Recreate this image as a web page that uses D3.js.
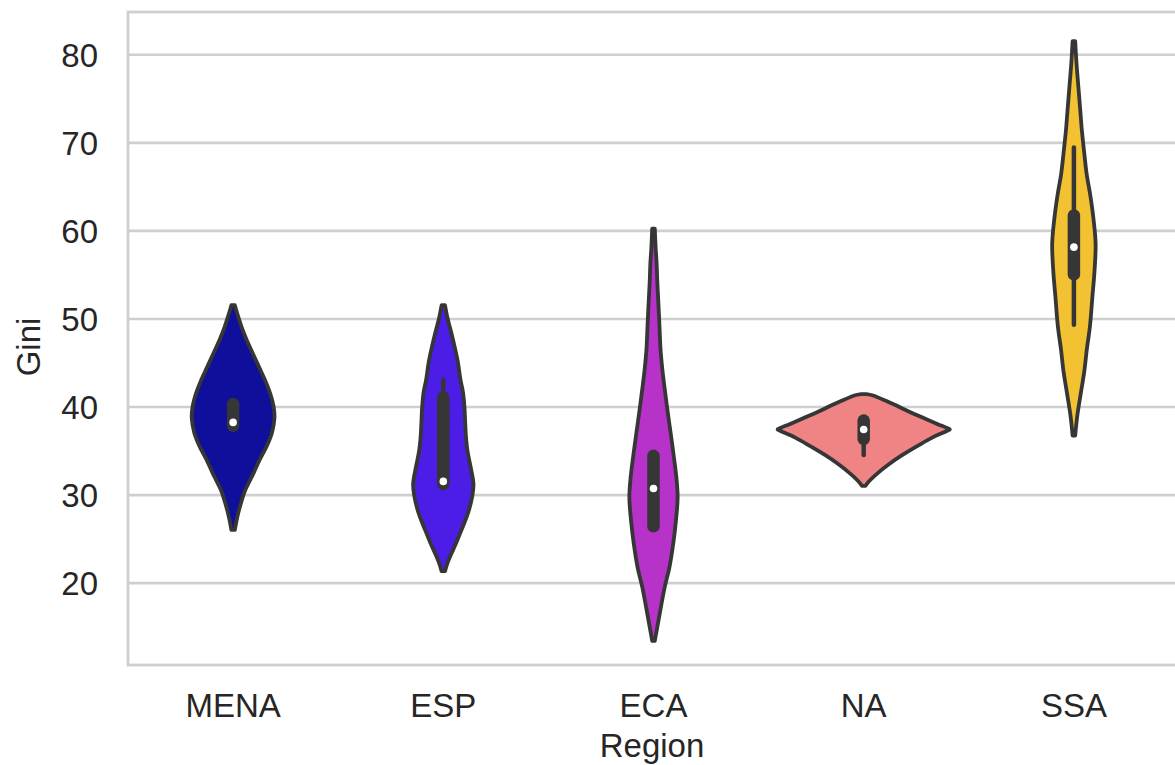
<!DOCTYPE html>
<html>
<head>
<meta charset="utf-8">
<script src="https://cdn.jsdelivr.net/npm/d3@7"></script>
<style>
  html, body { margin: 0; padding: 0; background: #ffffff; }
  svg { display: block; }
  text { font-family: "Liberation Sans", Arial, sans-serif; fill: #262626; }
</style>
</head>
<body>
<svg id="chart" width="1175" height="765"></svg>
<script>
// Regions along the x axis
const regions = ["MENA", "ESP", "ECA", "NA", "SSA"];
const regionColors = ["#0f0f9b", "#4b1de6", "#b632c9", "#f08383", "#f2c232"];
const yTicks = [20, 30, 40, 50, 60, 70, 80];

// Kernel density profiles: [Gini value, relative density]
const densityMENA = [[26.0,0.02],[27.5,0.05],[29,0.09],[30.5,0.14],[31.7,0.20],[32.5,0.24],[34,0.31],[35.5,0.39],[37,0.45],[38.7,0.48],[40,0.47],[41.5,0.43],[43,0.37],[44.5,0.30],[46,0.23],[47.5,0.16],[49,0.10],[50.5,0.05],[51.5,0.02]];
const densityESP = [[21.3,0.02],[22,0.04],[23,0.08],[24.3,0.14],[25.5,0.19],[26.8,0.245],[28,0.29],[29.5,0.33],[31.2,0.35],[33,0.32],[35,0.28],[36.7,0.262],[38,0.255],[40,0.245],[41.7,0.227],[43,0.20],[45,0.17],[46.6,0.136],[48.5,0.09],[50,0.05],[51.5,0.02]];
const densityECA = [[13.4,0.015],[15,0.045],[16.9,0.08],[19.5,0.13],[21.8,0.186],[24.5,0.23],[27,0.26],[29.7,0.28],[32,0.265],[34,0.24],[36.7,0.203],[39,0.17],[41.7,0.134],[44,0.105],[46.6,0.081],[49,0.07],[51.5,0.058],[54,0.045],[56.5,0.035],[58,0.025],[60.2,0.015]];
const densityNA = [[31.0,0.02],[31.6,0.07],[32.5,0.17],[33.5,0.30],[34.5,0.45],[35.5,0.62],[36.5,0.80],[37.2,0.96],[37.4,1.0],[37.6,0.96],[38.0,0.86],[38.8,0.67],[39.5,0.51],[40.2,0.36],[40.8,0.22],[41.25,0.11],[41.4,0.03]];
const densitySSA = [[36.7,0.015],[39,0.04],[41.5,0.08],[44.1,0.122],[46.5,0.15],[49.1,0.186],[52.5,0.215],[55.5,0.24],[58.5,0.252],[61.5,0.225],[64,0.19],[66.4,0.148],[68.8,0.12],[71.3,0.093],[73.5,0.075],[76.3,0.052],[79,0.03],[81.5,0.015]];

// Box summaries: [lower whisker, Q1, median, Q3, upper whisker]
const boxMENA = [37.8, 37.8, 38.2, 40.3, 40.3];
const boxESP = [31.2, 31.2, 31.5, 41.0, 43.0];
const boxECA = [26.4, 26.4, 30.7, 34.4, 34.4];
const boxNA = [34.5, 36.3, 37.4, 38.4, 38.4];
const boxSSA = [49.3, 55.0, 58.1, 61.7, 69.4];

const densities = [densityMENA, densityESP, densityECA, densityNA, densitySSA];
const boxes = [boxMENA, boxESP, boxECA, boxNA, boxSSA];

const svg = d3.select("#chart");
const plot = { left: 128, right: 1179, top: 12, bottom: 665 };

const x = d3.scaleBand().domain(regions).range([plot.left, plot.right]).padding(0);
const y = d3.scaleLinear().domain([10.65, 84.8]).range([plot.bottom, plot.top]);
const w = d3.scaleLinear().domain([0, 1]).range([0, x.bandwidth() * 0.41]);

const gridColor = "#cfcfcf";
const lineColor = "#363636";

// Horizontal grid
const yAxis = d3.axisLeft(y).tickValues(yTicks).tickSize(-(plot.right - plot.left)).tickPadding(30).tickFormat(d3.format("d"));
const gy = svg.append("g").attr("transform", `translate(${plot.left},0)`).call(yAxis);
gy.select(".domain").remove();
gy.selectAll(".tick line").attr("stroke", gridColor).attr("stroke-width", 2.6);
gy.selectAll(".tick text").attr("font-size", 33).attr("fill", "#262626").attr("dy", "0.36em");

// Frame of the axes
svg.append("rect")
  .attr("x", plot.left).attr("y", plot.top)
  .attr("width", plot.right - plot.left).attr("height", plot.bottom - plot.top)
  .attr("fill", "none").attr("stroke", gridColor).attr("stroke-width", 2.8);

// Category axis labels
const xAxis = d3.axisBottom(x).tickSize(0).tickPadding(22);
const gx = svg.append("g").attr("transform", `translate(0,${plot.bottom})`).call(xAxis);
gx.select(".domain").remove();
gx.selectAll(".tick text").attr("font-size", 33).attr("fill", "#262626").attr("dy", "0.9em");

// Violins
const area = d3.area()
  .curve(d3.curveCatmullRom.alpha(0.5));

regions.forEach((r, i) => {
  const cx = x(r) + x.bandwidth() / 2;
  const prof = densities[i];
  area.y(d => y(d[0])).x0(d => cx - w(d[1])).x1(d => cx + w(d[1]));
  svg.append("path")
    .datum(prof)
    .attr("d", area)
    .attr("fill", regionColors[i])
    .attr("stroke", lineColor)
    .attr("stroke-width", 3.8)
    .attr("stroke-linejoin", "round");

  const b = boxes[i];
  // whisker
  svg.append("line")
    .attr("x1", cx).attr("x2", cx)
    .attr("y1", y(b[0])).attr("y2", y(b[4]))
    .attr("stroke", lineColor).attr("stroke-width", 4.5).attr("stroke-linecap", "round");
  // interquartile box
  svg.append("line")
    .attr("x1", cx).attr("x2", cx)
    .attr("y1", y(b[1])).attr("y2", y(b[3]))
    .attr("stroke", lineColor).attr("stroke-width", 12.5).attr("stroke-linecap", "round");
  // median
  svg.append("circle")
    .attr("cx", cx).attr("cy", y(b[2])).attr("r", 3.8)
    .attr("fill", "#ffffff");
});

// Axis titles
svg.append("text")
  .attr("x", 652).attr("y", 757)
  .attr("text-anchor", "middle").attr("font-size", 33)
  .text("Region");

svg.append("text")
  .attr("transform", `translate(40,347) rotate(-90)`)
  .attr("text-anchor", "middle").attr("font-size", 33)
  .text("Gini");
</script>
</body>
</html>
